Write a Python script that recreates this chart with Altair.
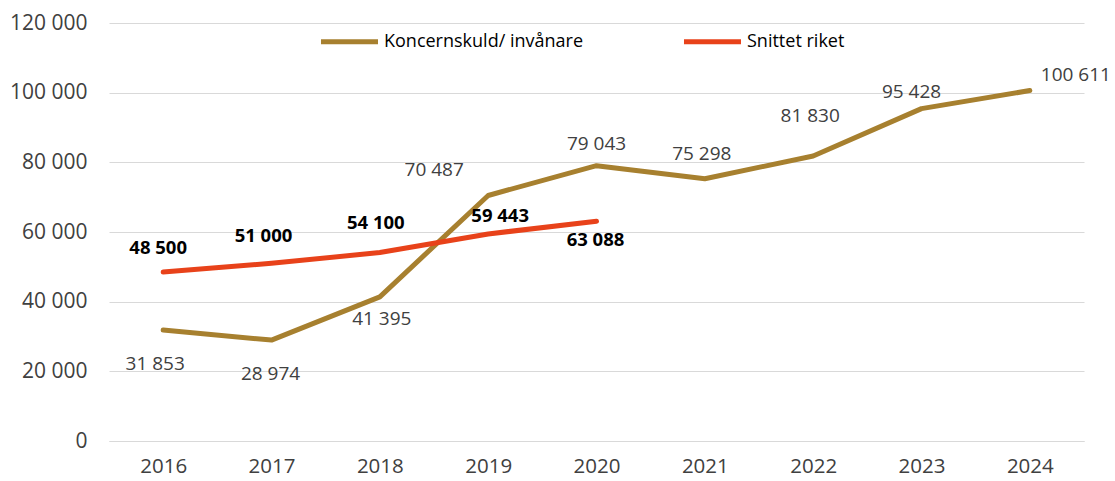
import altair as alt
import pandas as pd

# ---- data ----
years = ["2016", "2017", "2018", "2019", "2020", "2021", "2022", "2023", "2024"]
koncernskuld = [31853, 28974, 41395, 70487, 79043, 75298, 81830, 95428, 100611]
snitt_years = ["2016", "2017", "2018", "2019", "2020"]
snitt_riket = [48500, 51000, 54100, 59443, 63088]
series_names = ["Koncernskuld/ invånare", "Snittet riket"]
y_ticks = [0, 20000, 40000, 60000, 80000, 100000, 120000]

# ---- label placement (pixel offsets from the point) ----
k_dx = [-8, -1, 2, -54, 0, -3, -3, -10, 46]
k_dy = [34, 34, 22, -25, -22, -25, -40, -17, -16]
s_dx = [-5, -8, -4, 12, -1]
s_dy = [-24, -27, -30, -18, 19]

GOLD = "#A7802F"
RED = "#E8421A"
FONT = "Open Sans"


def fmt(v):
    return f"{v:,}".replace(",", " ")


df = pd.DataFrame(
    {"year": years, "value": koncernskuld, "series": series_names[0]}
)
df2 = pd.DataFrame(
    {"year": snitt_years, "value": snitt_riket, "series": series_names[1]}
)
data = pd.concat([df, df2], ignore_index=True)
data["label"] = data["value"].map(fmt)

x = alt.X(
    "year:O",
    scale=alt.Scale(type="point", padding=0.5),
    axis=alt.Axis(
        title=None,
        labelAngle=0,
        ticks=False,
        tickSize=0,
        domain=True,
        domainColor="#D9D9D9",
        labelFont=FONT,
        labelFontSize=20.5,
        labelColor="#404040",
        labelPadding=15,
        grid=False,
    ),
)
y = alt.Y(
    "value:Q",
    scale=alt.Scale(domain=[0, 120000], nice=False, zero=True),
    axis=alt.Axis(
        title=None,
        values=y_ticks,
        ticks=False,
        tickSize=0,
        domain=False,
        grid=True,
        gridColor="#D9D9D9",
        gridWidth=1,
        labelFont=FONT,
        labelFontSize=21,
        labelColor="#404040",
        labelPadding=22,
        labelExpr="replace(format(datum.value, ','), /,/g, ' ')",
    ),
)

lines = (
    alt.Chart(data)
    .mark_line(strokeWidth=5, strokeCap="round", strokeJoin="round")
    .encode(
        x=x,
        y=y,
        color=alt.Color(
            "series:N",
            scale=alt.Scale(domain=series_names, range=[GOLD, RED]),
            legend=alt.Legend(
                title=None,
                orient="none",
                legendX=209,
                legendY=-13,
                direction="horizontal",
                symbolType="stroke",
                symbolSize=3250,
                symbolStrokeWidth=5,
                labelFont=FONT,
                labelFontSize=18,
                labelColor="#000000",
                labelOffset=3,
                labelLimit=500,
                columnPadding=89,
                padding=0,
            ),
        ),
    )
)

layers = [lines]
for i, yr in enumerate(years):
    sub = data[(data["series"] == series_names[0]) & (data["year"] == yr)]
    layers.append(
        alt.Chart(sub)
        .mark_text(
            font=FONT,
            fontSize=19,
            color="#404040",
            align="center",
            baseline="middle",
            dx=k_dx[i],
            dy=k_dy[i],
        )
        .encode(x=alt.X("year:O"), y=alt.Y("value:Q"), text="label:N")
    )
for i, yr in enumerate(snitt_years):
    sub = data[(data["series"] == series_names[1]) & (data["year"] == yr)]
    layers.append(
        alt.Chart(sub)
        .mark_text(
            font=FONT,
            fontSize=18.5,
            fontWeight="bold",
            color="#000000",
            align="center",
            baseline="middle",
            dx=s_dx[i],
            dy=s_dy[i],
        )
        .encode(x=alt.X("year:O"), y=alt.Y("value:Q"), text="label:N")
    )

chart = (
    alt.layer(*layers)
    .properties(
        width=975,
        height=418,
        autosize="none",
        padding={"left": 109, "top": 23, "right": 31, "bottom": 40},
        background="white",
    )
    .configure_view(stroke=None)
)

chart.save("out.html", embed_options={"renderer": "svg", "actions": False})
